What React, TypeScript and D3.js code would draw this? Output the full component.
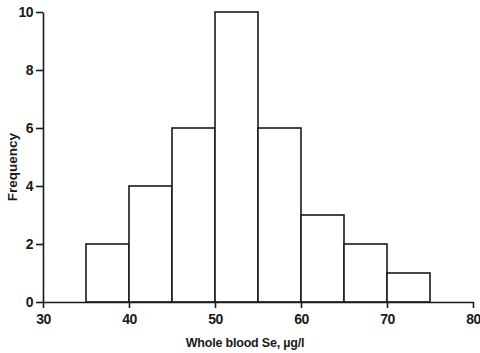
import React, { useEffect, useRef } from "react";
import * as d3 from "d3";

// histogram bins (lower edge, upper edge) and counts
const binStarts = [35, 40, 45, 50, 55, 60, 65, 70];
const binEnds = [40, 45, 50, 55, 60, 65, 70, 75];
const counts = [2, 4, 6, 10, 6, 3, 2, 1];
const xTicks = [30, 40, 50, 60, 70, 80];
const yTicks = [0, 2, 4, 6, 8, 10];

const INK = "#1a1a1a";
const FONT = "'Liberation Sans', Arial, sans-serif";

const App = () => {
  const svgRef = useRef<SVGSVGElement>(null);

  useEffect(() => {
    const svg = d3.select(svgRef.current);
    svg.selectAll("*").remove();

    const x = d3.scaleLinear().domain([30, 80]).range([43, 473]);
    const y = d3.scaleLinear().domain([0, 10]).range([302, 12]);

    const g = svg.append("g");

    // bars
    g.selectAll(".bar")
      .data(counts)
      .join("rect")
      .attr("class", "bar")
      .attr("x", (d, i) => x(binStarts[i]))
      .attr("y", (d) => y(d))
      .attr("width", (d, i) => x(binEnds[i]) - x(binStarts[i]))
      .attr("height", (d) => y(0) - y(d))
      .attr("fill", "white")
      .attr("stroke", INK)
      .attr("stroke-width", 1.6);

    // x axis
    const xAxis = d3.axisBottom(x).tickValues(xTicks).tickSize(6).tickSizeOuter(0).tickPadding(6);
    const xg = g.append("g").attr("transform", `translate(0,${y(0)})`).call(xAxis);

    // y axis
    const yAxis = d3.axisLeft(y).tickValues(yTicks).tickSize(7).tickSizeOuter(0).tickPadding(3);
    const yg = g.append("g").attr("transform", `translate(${x(30)},0)`).call(yAxis);

    [xg, yg].forEach((a) => {
      a.select(".domain").attr("stroke", INK).attr("stroke-width", 1.6);
      a.selectAll(".tick line").attr("stroke", INK).attr("stroke-width", 1.6);
      a.selectAll(".tick text")
        .attr("fill", INK)
        .style("font-family", FONT)
        .style("font-weight", "bold")
        .style("font-size", "14px")
        .style("letter-spacing", "-0.5px");
    });

    // axis titles
    svg.append("text")
      .attr("x", 245)
      .attr("y", 347)
      .attr("text-anchor", "middle")
      .attr("fill", INK)
      .style("font-family", FONT)
      .style("font-weight", "bold")
      .style("font-size", "12.5px")
      .style("letter-spacing", "-0.2px")
      .text("Whole blood Se, \u00b5g/l");

    svg.append("text")
      .attr("transform", `translate(17,167) rotate(-90)`)
      .attr("text-anchor", "middle")
      .attr("fill", INK)
      .style("font-family", FONT)
      .style("font-weight", "bold")
      .style("font-size", "13.5px")
      .text("Frequency");
  }, []);

  return (
    <svg
      ref={svgRef}
      width={480}
      height={353}
      style={{ position: "absolute", left: 0, top: 0, background: "white" }}
    ></svg>
  );
};

export default App;
